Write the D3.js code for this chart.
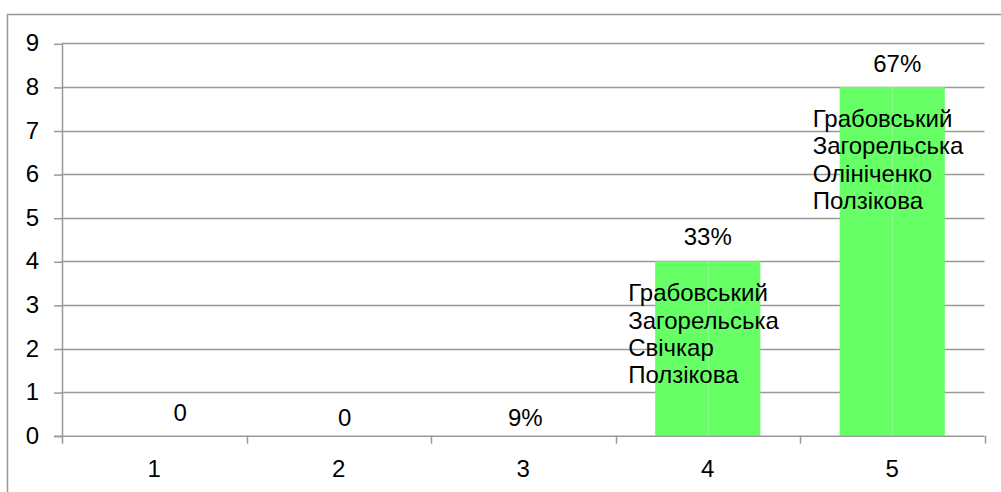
<!DOCTYPE html>
<html>
<head>
<meta charset="utf-8">
<script src="https://cdn.jsdelivr.net/npm/d3@7"></script>
<style>
	body { margin: 0; background: #fff; }
	svg { display: block; font-family: "Liberation Sans", Arial, sans-serif; }
</style>
</head>
<body>
<svg class="chart" width="1001" height="492"></svg>
<script>

var categories = ["1", "2", "3", "4", "5"];
var values = [0, 0, 0, 4, 8];
var topLabels = ["0", "0", "9%", "33%", "67%"];
var innerNames = [
	[],
	[],
	[],
	["Грабовський", "Загорельська", "Свічкар", "Ползікова"],
	["Грабовський", "Загорельська", "Олініченко", "Ползікова"]
];
var yTicks = [0, 1, 2, 3, 4, 5, 6, 7, 8, 9];

var plotLeft = 62, plotRight = 984.5, plotTop = 43.3, plotBottom = 435.7;
var fontSize = '24px';
// hand nudges of the value labels, as placed in the original
var labelDx = [26, 6, 2, 0, 5];
var labelGap = [15, 10, 10, 16, 15];

var svg = d3.select('.chart');

// outer frame (only top and left edges fall inside the picture)
svg.append('rect')
	.attr('x', 7.5).attr('y', 14.5)
	.attr('width', 1010).attr('height', 500)
	.style('fill', 'none')
	.style('stroke', '#999')
	.style('stroke-width', 1.5);

var x = d3.scaleBand()
	.domain(categories)
	.range([plotLeft, plotRight])
	.paddingInner(0)
	.paddingOuter(0);

var y = d3.scaleLinear()
	.domain([0, 9])
	.range([plotBottom, plotTop]);

// gridlines
svg.append('g')
	.selectAll('line')
	.data(yTicks.filter(function(d){ return d > 0; }))
	.enter().append('line')
		.attr('x1', plotLeft).attr('x2', plotRight)
		.attr('y1', function(d){ return Math.round(y(d)) + 0.5; })
		.attr('y2', function(d){ return Math.round(y(d)) + 0.5; })
		.style('stroke', '#999')
		.style('stroke-width', 1.5);

// bars
var barW = x.bandwidth() * 0.57;
var bars = svg.append('g')
	.selectAll('g')
	.data(values)
	.enter().append('g');

bars.append('rect')
	.attr('x', function(d, i){ return x(categories[i]) + (x.bandwidth() - barW) / 2; })
	.attr('y', function(d){ return y(d); })
	.attr('width', barW)
	.attr('height', function(d){ return y(0) - y(d); })
	.style('fill', '#66ff66');

// faint seam down the middle of each bar
bars.append('line')
	.attr('x1', function(d, i){ return Math.round(x(categories[i]) + x.bandwidth() / 2) + 0.5; })
	.attr('x2', function(d, i){ return Math.round(x(categories[i]) + x.bandwidth() / 2) + 0.5; })
	.attr('y1', function(d){ return y(d); })
	.attr('y2', y(0))
	.style('stroke', '#8cff8c')
	.style('stroke-width', 1);

// y axis
var yAxis = d3.axisLeft(y)
	.tickValues(yTicks)
	.tickSize(8)
	.tickPadding(15)
	.tickFormat(d3.format('d'));

var gy = svg.append('g')
	.attr('transform', 'translate(' + plotLeft + ',0)')
	.call(yAxis);
gy.select('.domain').attr('d', 'M0.5,' + plotTop + 'V' + (plotBottom + 8));
gy.selectAll('.tick line').attr('transform', 'translate(0,0.5)');

// x axis
var gx = svg.append('g')
	.attr('transform', 'translate(0,' + (plotBottom + 0.5) + ')')
	.call(d3.axisBottom(x).tickSize(0).tickPadding(0));
gx.select('.domain').attr('d', 'M' + (plotLeft - 8) + ',0H' + plotRight);
gx.selectAll('.tick text').attr('y', 41).attr('dy', null);

// category boundary ticks
svg.append('g')
	.selectAll('line')
	.data(categories)
	.enter().append('line')
		.attr('x1', function(d){ return Math.round(x(d) + x.bandwidth()) + 0.5; })
		.attr('x2', function(d){ return Math.round(x(d) + x.bandwidth()) + 0.5; })
		.attr('y1', plotBottom).attr('y2', plotBottom + 8)
		.style('stroke', '#999')
		.style('stroke-width', 1.5);

svg.selectAll('.domain, .tick line')
	.style('stroke', '#999')
	.style('stroke-width', 1.5);
svg.selectAll('.tick text')
	.attr('font-size', null)
	.style('font-size', fontSize)
	.style('fill', '#000')
	.style('font-family', '"Liberation Sans", Arial, sans-serif');

// value labels above bars
svg.append('g')
	.selectAll('text')
	.data(topLabels)
	.enter().append('text')
		.attr('x', function(d, i){ return x(categories[i]) + x.bandwidth() / 2 + labelDx[i]; })
		.attr('y', function(d, i){ return y(values[i]) - labelGap[i]; })
		.attr('text-anchor', 'middle')
		.style('font-size', fontSize)
		.text(function(d){ return d; });

// names inside bars
innerNames.forEach(function(names, i){
	if (!names.length) return;
	var tx = x(categories[i]) + (x.bandwidth() - barW) / 2 - 27;
	var t = svg.append('text')
		.attr('x', tx)
		.attr('y', y(values[i]) + 40)
		.style('font-size', fontSize);
	names.forEach(function(n, k){
		t.append('tspan')
			.attr('x', tx)
			.attr('dy', k === 0 ? 0 : 27.3)
			.text(n);
	});
});

</script>
</body>
</html>
